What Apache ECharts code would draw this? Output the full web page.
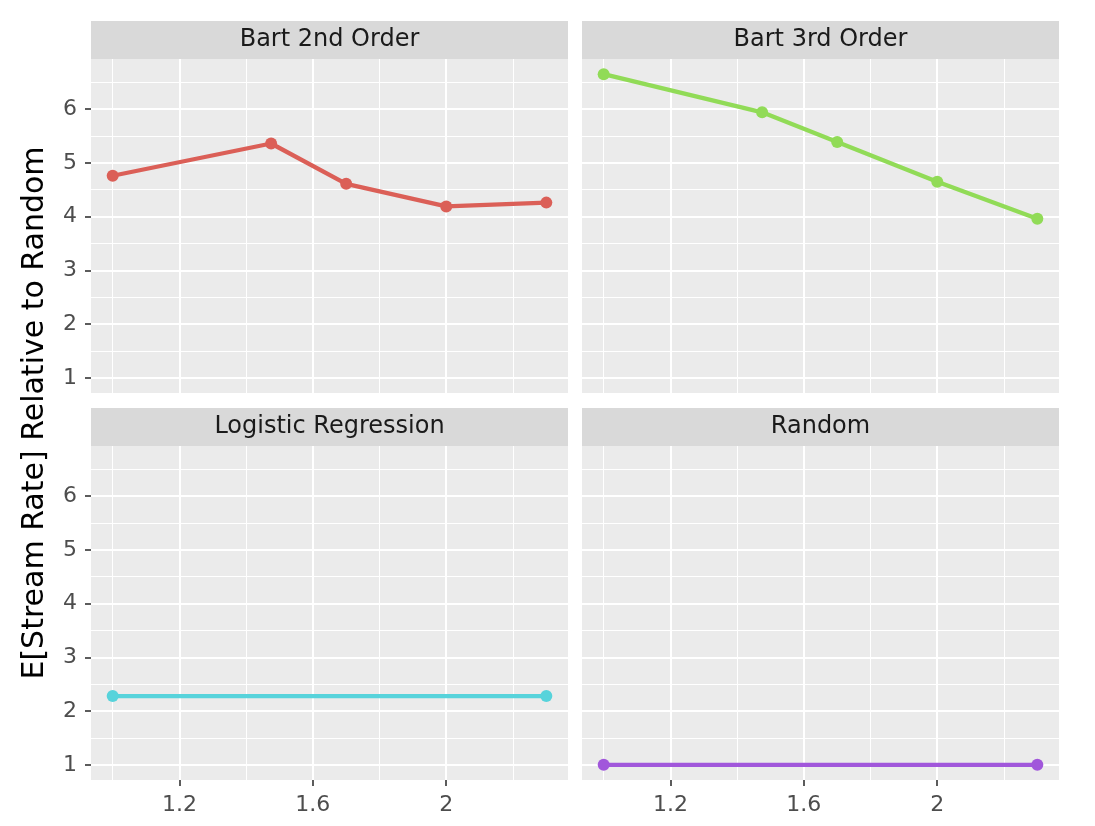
<!DOCTYPE html>
<html>
<head>
<meta charset="utf-8">
<script src="https://cdn.jsdelivr.net/npm/echarts@6/dist/echarts.min.js"></script>
<style>
html,body{margin:0;padding:0;background:#fff;}
#chart{width:1095px;height:826px;}
</style>
</head>
<body>
<div id="chart"></div>
<script>
// ---- data ----
const panels = ['Bart 2nd Order', 'Bart 3rd Order', 'Logistic Regression', 'Random'];
const colors = ['#DB5F57', '#91DB57', '#57D3DB', '#A157DB'];
const xBart = [1.0, 1.475, 1.7, 2.0, 2.3];
const yBart2 = [4.76, 5.36, 4.61, 4.19, 4.26];
const yBart3 = [6.65, 5.94, 5.39, 4.65, 3.96];
const xFlat = [1.0, 2.3];
const yLogistic = [2.28, 2.28];
const yRandom = [1.0, 1.0];
const xMajor = [1.2, 1.6, 2.0];
const xMinor = [1.0, 1.4, 1.8, 2.2];
const yMajor = [1, 2, 3, 4, 5, 6];
const yMinor = [1.5, 2.5, 3.5, 4.5, 5.5, 6.5];
const yTitle = 'E[Stream Rate] Relative to Random';

const seriesX = [xBart, xBart, xFlat, xFlat];
const seriesY = [yBart2, yBart3, yLogistic, yRandom];

// ---- layout ----
const font = 'DejaVu Sans';
const colLeft = [91, 582];
const rowTop = [59, 446];
const pw = 477, ph = 334, stripH = 38;
const xMin = 0.935, xMax = 2.365, yMin = 0.7175, yMax = 6.9325;

const grids = [], xAxes = [], yAxes = [], series = [], graphics = [];
panels.forEach((name, i) => {
  const r = Math.floor(i / 2), c = i % 2;
  grids.push({left: colLeft[c], top: rowTop[r], width: pw, height: ph,
    show: true, backgroundColor: '#EBEBEB', borderWidth: 0});
  const showX = r === 1, showY = c === 0;
  // major x
  xAxes.push({type: 'value', gridIndex: i, min: xMin, max: xMax, position: 'bottom',
    axisLine: {show: false},
    axisTick: {show: showX, customValues: xMajor, length: 6, lineStyle: {color: '#333333', width: 1.6}},
    axisLabel: {show: showX, customValues: xMajor, margin: 14, color: '#4D4D4D', fontSize: 22, fontFamily: font,
      formatter: v => String(+v.toFixed(2))},
    splitLine: {show: true, lineStyle: {color: '#FFFFFF', width: 2}}
  });
  // minor x
  xAxes.push({type: 'value', gridIndex: i, min: xMin, max: xMax, position: 'top',
    axisLine: {show: false},
    axisTick: {show: false, customValues: xMinor},
    axisLabel: {show: false, customValues: xMinor},
    splitLine: {show: true, lineStyle: {color: '#FFFFFF', width: 1}}
  });
  yAxes.push({type: 'value', gridIndex: i, min: yMin, max: yMax, position: 'left',
    axisLine: {show: false},
    axisTick: {show: showY, customValues: yMajor, length: 6, lineStyle: {color: '#333333', width: 1.6}},
    axisLabel: {show: showY, customValues: yMajor, margin: 14, color: '#4D4D4D', fontSize: 22, fontFamily: font},
    splitLine: {show: true, lineStyle: {color: '#FFFFFF', width: 2}}
  });
  yAxes.push({type: 'value', gridIndex: i, min: yMin, max: yMax, position: 'right',
    axisLine: {show: false},
    axisTick: {show: false, customValues: yMinor},
    axisLabel: {show: false, customValues: yMinor},
    splitLine: {show: true, lineStyle: {color: '#FFFFFF', width: 1}}
  });
  series.push({type: 'line', name: name, xAxisIndex: 2 * i, yAxisIndex: 2 * i,
    data: seriesX[i].map((x, k) => [x, seriesY[i][k]]),
    symbol: 'circle', symbolSize: 12, showSymbol: true,
    lineStyle: {color: colors[i], width: 4.3},
    itemStyle: {color: colors[i]},
    z: 5, animation: false
  });
  // strip
  graphics.push({type: 'rect', left: colLeft[c], top: rowTop[r] - stripH,
    shape: {width: pw, height: stripH}, style: {fill: '#D9D9D9'}});
  graphics.push({type: 'text', x: colLeft[c] + pw / 2, y: rowTop[r] - stripH / 2,
    style: {text: name, fill: '#1A1A1A', font: '24px "DejaVu Sans"', textAlign: 'center', textVerticalAlign: 'middle'}});
});
graphics.push({type: 'text', x: 35, y: 413, rotation: Math.PI / 2,
  style: {text: yTitle, fill: '#000000', font: '30px "DejaVu Sans"', textAlign: 'center', textVerticalAlign: 'middle'}});

const chart = echarts.init(document.getElementById('chart'), null, {renderer: 'canvas'});
chart.setOption({
  animation: false,
  backgroundColor: '#FFFFFF',
  grid: grids, xAxis: xAxes, yAxis: yAxes, series: series, graphic: graphics
});
</script>
</body>
</html>
